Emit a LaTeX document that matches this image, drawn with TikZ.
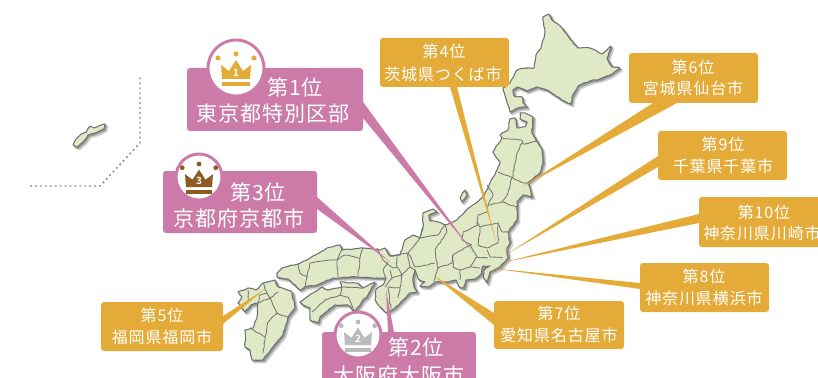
\documentclass[tikz,border=0pt]{standalone}
\usepackage{fontspec}
\usetikzlibrary{calc,decorations.pathmorphing}
\newfontfamily\jpbig[LetterSpace=4]{Noto Sans CJK JP}
\newfontfamily\jpsmall[LetterSpace=5.5]{Noto Sans CJK JP}
\definecolor{gold}{HTML}{E4AB38}
\definecolor{rose}{HTML}{CC7BA8}
\definecolor{land}{HTML}{DFE9C6}
\definecolor{rim}{HTML}{707070}
\definecolor{cast}{HTML}{9A9A9A}
\definecolor{castsoft}{HTML}{D2D2D2}
\definecolor{bronze}{HTML}{8E5A20}
\definecolor{silver}{HTML}{B9BCBC}
\tikzset{
  boxbase/.style={rounded corners=2.2pt,inner sep=0pt,outer sep=0pt},
  goldbox/.style={boxbase,fill=gold},
  rosebox/.style={boxbase,fill=rose},
  bigtext/.style={text=white,inner sep=0pt,font=\jpbig\fontsize{15.8}{16}\selectfont},
  smalltext/.style={text=white,inner sep=0pt,font=\jpsmall\fontsize{12}{12}\selectfont},
  goldwedge/.style={fill=gold},
  rosewedge/.style={fill=rose},
  rough/.style={decorate,decoration={random steps,segment length=2.4pt,amplitude=0.4pt}},
  regionfill/.style={fill=land,draw=rim,line width=0.8pt,line join=round,rough},
  regioncast/.style={fill=cast,draw=cast,line width=1pt,line join=round,shift={(1.3,1.3)}},
  regionsoft/.style={fill=castsoft,draw=castsoft,line width=1.6pt,line join=round,shift={(2.4,2.4)}},
  border/.style={draw=rim,line width=0.6pt,line join=round,rough},
  dotline/.style={draw=gray!90,line width=1.1pt,dash pattern=on 1.4pt off 2.3pt},
  medal/.style={circle,fill=white,draw=rose,line width=2.2pt,inner sep=0pt},
}
% name, x0, y0, x1, y1, style
\newcommand\labelbox[6]{%
  \pgfmathsetmacro\bw{(#4-#2)*0.75}\pgfmathsetmacro\bh{(#5-#3)*0.75}%
  \node[#6,minimum width=\bw pt,minimum height=\bh pt,anchor=north west] (#1) at (#2,#3) {};}
% name, x, y, radius px, scale, colour, number
\newcommand\crownmark[7]{%
  \pgfmathsetmacro\bd{#4*1.5}%
  \node[medal,minimum size=\bd pt] (#1) at (#2,#3) {};
  \begin{scope}[shift={(#2,#3)},x=#5*0.75pt,y=-#5*0.75pt,fill=#6]
    \fill (-15,-3)--(-7,3)--(0,-8)--(7,3)--(15,-3)--(14,11)--(-14,11)--cycle;
    \fill (-14,14) rectangle (14,18.5);
    \fill (-18,-10) circle[radius=2.6];
    \fill (0,-14) circle[radius=2.6];
    \fill (18,-10) circle[radius=2.6];
    \node[text=white,inner sep=0pt,font=\fontspec{Noto Sans CJK JP Bold}\fontsize{7.5}{8}\selectfont] (#1n) at (0,4.5) {#7};
  \end{scope}}
\def\hokkaido{(543,17)--(549,14)--(552,20)--(562,28)--(570,39)--(578,48)--(590,48)--(602,54)--(611,46)--(607,58)--(612,67)--(620,68)--(610,75)--(600,79)--(590,81)--(578,86)--(572,97)--(571,104)--(562,100)--(547,90)--(537,87)--(527,91)--(518,87)--(513,90)--(514,96)--(522,97)--(523,103)--(527,107)--(518,108)--(510,112)--(507,103)--(503,88)--(510,83)--(517,70)--(526,68)--(534,68)--(536,55)--(541,48)--(545,32)--cycle}
\def\honshu{(500,135)--(508,130)--(510,119)--(515,118)--(517,128)--(525,127)--(527,122)--(520,119)--(520,113)--(525,113)--(533,117)--(532,133)--(538,143)--(542,150)--(543,163)--(540,173)--(528,183)--(532,197)--(523,195)--(517,202)--(517,220)--(508,232)--(510,242)--(507,248)--(508,258)--(500,267)--(490,272)--(487,283)--(483,277)--(484,270)--(490,266)--(483,266)--(481,274)--(475,279)--(466,280)--(464,288)--(459,287)--(456,280)--(448,282)--(436,282)--(428,287)--(420,286)--(425,282)--(418,279)--(415,270)--(413,278)--(414,287)--(417,292)--(410,293)--(403,300)--(395,308)--(387,313)--(380,307)--(375,300)--(376,289)--(383,285)--(386,278)--(377,278)--(357,277)--(333,278)--(317,285)--(305,287)--(300,290)--(288,279)--(277,277)--(277,273)--(282,268)--(298,264)--(310,258)--(327,248)--(340,245)--(342,250)--(363,248)--(380,250)--(385,248)--(390,256)--(400,255)--(405,240)--(413,235)--(420,238)--(423,227)--(423,213)--(433,209)--(437,212)--(429,215)--(430,221)--(438,222)--(445,225)--(457,220)--(470,207)--(482,198)--(485,193)--(490,183)--(497,170)--(500,162)--(493,152)--(502,138)--cycle}
\def\shikoku{(300,302)--(322,287)--(328,290)--(342,287)--(340,282)--(358,283)--(363,288)--(375,282)--(367,297)--(363,300)--(355,312)--(348,305)--(335,305)--(320,317)--(318,323)--(310,320)--(310,308)--(303,305)--cycle}
\def\kyushu{(275,280)--(278,287)--(292,292)--(295,308)--(288,317)--(283,335)--(273,347)--(263,360)--(252,360)--(250,350)--(245,347)--(245,330)--(253,328)--(257,317)--(258,303)--(251,305)--(245,312)--(238,303)--(242,297)--(238,292)--(248,288)--(256,290)--(263,283)--cycle}
\def\sado{(460,198)--(465,190)--(467,195)--(462,202)--cycle}
\def\okinawa{(73,145)--(76,139)--(81,134)--(86,132)--(90,126)--(94,128)--(105,124)--(104,129)--(95,133)--(88,135)--(84,141)--(77,147)--cycle}
\begin{document}
\begin{tikzpicture}[x=0.75pt,y=-0.75pt]
\useasboundingbox (0,0) rectangle (818,378);
\pgfmathsetseed{7}
% islands
\foreach \isle in {\hokkaido,\honshu,\shikoku,\kyushu,\sado,\okinawa}{
  \path[regionsoft] \isle;
}
\foreach \isle in {\hokkaido,\honshu,\shikoku,\kyushu,\sado,\okinawa}{
  \path[regioncast] \isle;
}
\path[regionfill] \hokkaido;
\path[regionfill] \honshu;
\path[regionfill] \shikoku;
\path[regionfill] \kyushu;
\path[regionfill] \sado;
\path[regionfill] \okinawa;
% prefecture borders
\draw[border] (502,138)--(522,140)--(523,144)--(537,141);
\draw[border] (522,143)--(517,153)--(513,173)--(513,178);
\draw[border] (498,172)--(513,178)--(523,183)--(528,183);
\draw[border] (512,178)--(508,193)--(502,202)--(517,207);
\draw[border] (487,185)--(493,195)--(488,205)--(502,202);
\draw[border] (488,205)--(487,212)--(478,215)--(477,225);
\draw[border] (477,222)--(480,227)--(498,223)--(502,232)--(508,232);
\draw[border] (498,223)--(498,243)--(487,248)--(478,245)--(480,227);
\draw[border] (487,250)--(490,257)--(503,258);
\draw[border] (470,245)--(477,257)--(488,258);
\draw[border] (478,225)--(463,232)--(462,240)--(472,245);
\draw[border] (445,225)--(447,232)--(435,250)--(438,268)--(452,263)--(453,255)--(462,250)--(470,245);
\draw[border] (453,255)--(453,267)--(460,270)--(470,267)--(477,257);
\draw[border] (470,267)--(480,268);
\draw[border] (460,270)--(460,280);
\draw[border] (438,268)--(434,282);
\draw[border] (423,227)--(420,238)--(438,235)--(445,225);
\draw[border] (420,238)--(408,253)--(415,267)--(435,263);
\draw[border] (397,255)--(407,253)--(410,267)--(402,275)--(397,267)--(397,255);
\draw[border] (410,267)--(415,270);
\draw[border] (402,275)--(400,288)--(388,287);
\draw[border] (377,248)--(383,260)--(393,268)--(397,267);
\draw[border] (390,256)--(397,255);
\draw[border] (390,270)--(392,278)--(385,287);
\draw[border] (392,278)--(402,275);
\draw[border] (400,288)--(398,298);
\draw[border] (388,287)--(391,309);
\draw[border] (388,262)--(383,270)--(386,278);
\draw[border] (298,264)--(300,273)--(307,277)--(305,287);
\draw[border] (307,277)--(310,263)--(330,260)--(337,260)--(338,277);
\draw[border] (337,260)--(345,255)--(360,258)--(358,276);
\draw[border] (363,248)--(360,258);
\draw[border] (342,250)--(337,260);
\draw[border] (312,312)--(325,300)--(340,295)--(348,297)--(355,312);
\draw[border] (342,287)--(363,288);
\draw[border] (340,295)--(342,287);
\draw[border] (263,283)--(267,293)--(270,298)--(278,292);
\draw[border] (270,298)--(277,313)--(288,317);
\draw[border] (277,313)--(268,322)--(265,337)--(263,353);
\draw[border] (265,337)--(250,328);
\draw[border] (258,303)--(260,295)--(267,293);
\draw[border] (258,303)--(270,298);
\draw[border] (248,290)--(248,303);
% dotted frame round Okinawa
\coordinate (fa) at (30,186);
\coordinate (fb) at (100,186);
\coordinate (fc) at (140,143);
\coordinate (fd) at (140,77);
\draw[dotline] (fa)--(fb)--(fc)--(fd);
% tips of the connectors
\coordinate (tip1) at (473,252);
\coordinate (tip2) at (386,290);
\coordinate (tip3) at (390,262);
\coordinate (tip4) at (497,245);
\coordinate (tip5) at (265,289);
\coordinate (tip6) at (522,187);
\coordinate (tip7) at (433,275);
\coordinate (tip8) at (490,268);
\coordinate (tip9) at (507,254);
\coordinate (tip10) at (500,263);
% boxes
\labelbox{b1}{187}{68}{363}{131}{rosebox}
\labelbox{b3}{163}{171}{317}{233}{rosebox}
\labelbox{b2}{322}{332}{476}{394}{rosebox}
\labelbox{b4}{380}{38}{509}{87}{goldbox}
\labelbox{b6}{629}{53}{758}{103}{goldbox}
\labelbox{b9}{658}{131}{787}{180}{goldbox}
\labelbox{b10}{699}{197}{829}{247}{goldbox}
\labelbox{b8}{640}{263}{769}{312}{goldbox}
\labelbox{b7}{494}{301}{624}{349}{goldbox}
\labelbox{b5}{101}{302}{223}{351}{goldbox}
% connectors
\fill[rosewedge] ($(b1.north east)+(0,34)$)--(tip1)--($(b1.north east)+(0,50)$)--cycle;
\fill[rosewedge] ($(b3.north east)+(0,26)$)--(tip3)--($(b3.north east)+(0,38)$)--cycle;
\fill[rosewedge] ($(b2.north west)+(66,0)$)--(tip2)--($(b2.north west)+(72,0)$)--cycle;
\fill[goldwedge] ($(b4.south west)+(70,0)$)--(tip4)--($(b4.south west)+(77,0)$)--cycle;
\fill[goldwedge] ($(b5.north east)+(0,14)$)--(tip5)--($(b5.north east)+(0,22)$)--cycle;
\fill[goldwedge] ($(b6.south west)+(24,0)$)--(tip6)--($(b6.south west)+(48,0)$)--cycle;
\fill[goldwedge] ($(b7.north west)+(0,12)$)--(tip7)--($(b7.north west)+(0,24)$)--cycle;
\fill[goldwedge] ($(b8.north west)+(0,20)$)--(tip8)--($(b8.north west)+(0,26)$)--cycle;
\fill[goldwedge] ($(b9.north west)+(0,25)$)--(tip9)--($(b9.north west)+(0,36)$)--cycle;
\fill[goldwedge] ($(b10.north west)+(0,17)$)--(tip10)--($(b10.north west)+(0,26)$)--cycle;
% medals
\crownmark{m1}{236}{68}{28}{1}{gold}{1}
\crownmark{m3}{199}{177}{23}{0.93}{bronze}{3}
\crownmark{m2}{358}{335}{23}{0.93}{silver}{2}
% texts
\node[bigtext] (t1a) at (295,87) {第1位};
\node[bigtext] (t1b) at (273,114) {東京都特別区部};
\node[bigtext] (t3a) at (258,192) {第3位};
\node[bigtext] (t3b) at (239,218) {京都府京都市};
\node[bigtext] (t2a) at (416,347) {第2位};
\node[bigtext] (t2b) at (399,375) {大阪府大阪市};
\node[smalltext] (t4a) at (444,51) {第4位};
\node[smalltext] (t4b) at (443,74) {茨城県つくば市};
\node[smalltext] (t6a) at (693,67) {第6位};
\node[smalltext] (t6b) at (693,88) {宮城県仙台市};
\node[smalltext] (t9a) at (723,144) {第9位};
\node[smalltext] (t9b) at (723,166) {千葉県千葉市};
\node[smalltext] (t10a) at (764,212) {第10位};
\node[smalltext] (t10b) at (762,233) {神奈川県川崎市};
\node[smalltext] (t8a) at (704,276) {第8位};
\node[smalltext] (t8b) at (704,298) {神奈川県横浜市};
\node[smalltext] (t7a) at (559,313) {第7位};
\node[smalltext] (t7b) at (559,335) {愛知県名古屋市};
\node[smalltext] (t5a) at (162,315) {第5位};
\node[smalltext] (t5b) at (162,337) {福岡県福岡市};
\end{tikzpicture}
\end{document}
